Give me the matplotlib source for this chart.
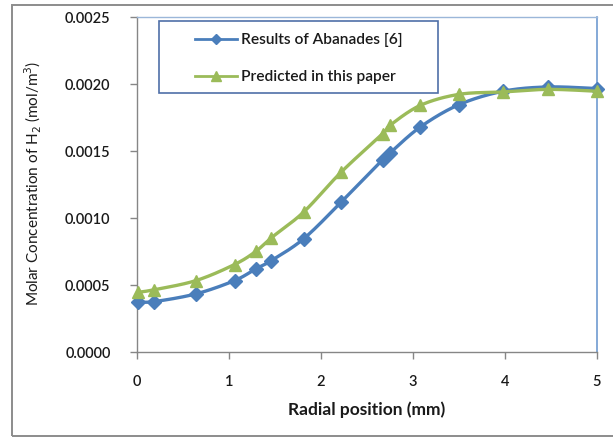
import numpy as np
import matplotlib
matplotlib.use("Agg")
import matplotlib.pyplot as plt
from matplotlib.lines import Line2D
from matplotlib.patches import Rectangle

# Radial positions (mm) and H2 molar concentrations (mol/m3)
radial_mm = [0.01, 0.18, 0.64, 1.06, 1.29, 1.46, 1.81, 2.22, 2.67, 2.75, 3.08, 3.50, 3.98, 4.47, 5.00]
abanades = [0.000375, 0.000375, 0.000433, 0.000532, 0.000619, 0.000681, 0.000843, 0.001117,
            0.001433, 0.001483, 0.001677, 0.001843, 0.001943, 0.001975, 0.001963]
predicted = [0.000445, 0.000463, 0.000532, 0.000652, 0.000749, 0.000851, 0.001042, 0.001341,
             0.001627, 0.001689, 0.001838, 0.001920, 0.001938, 0.001957, 0.001943]

series_names = ["Results of Abanades [6]", "Predicted in this paper"]
x_ticks = [0, 1, 2, 3, 4, 5]
y_ticks = [0.0, 0.0005, 0.0010, 0.0015, 0.0020, 0.0025]

BLUE = "#4a7ebb"
GREEN = "#9bbb59"
GRID_GRAY = "#868686"
FONT = ["Lato", "DejaVu Sans"]


def smooth(xs, ys, n=30):
    """Catmull-Rom style smoothing through every point (like spreadsheet smoothed lines)."""
    xs = np.asarray(xs, float)
    ys = np.asarray(ys, float)
    px = np.concatenate([[xs[0]], xs, [xs[-1]]])
    py = np.concatenate([[ys[0]], ys, [ys[-1]]])
    outx, outy = [], []
    t = np.linspace(0, 1, n, endpoint=False)
    for i in range(1, len(px) - 2):
        p0x, p1x, p2x, p3x = px[i - 1:i + 3]
        p0y, p1y, p2y, p3y = py[i - 1:i + 3]
        c1x, c1y = p1x + (p2x - p0x) / 6, p1y + (p2y - p0y) / 6
        c2x, c2y = p2x - (p3x - p1x) / 6, p2y - (p3y - p1y) / 6
        bx = (1 - t) ** 3 * p1x + 3 * (1 - t) ** 2 * t * c1x + 3 * (1 - t) * t ** 2 * c2x + t ** 3 * p2x
        by = (1 - t) ** 3 * p1y + 3 * (1 - t) ** 2 * t * c1y + 3 * (1 - t) * t ** 2 * c2y + t ** 3 * p2y
        outx.extend(bx)
        outy.extend(by)
    outx.append(xs[-1])
    outy.append(ys[-1])
    return np.array(outx), np.array(outy)


fig = plt.figure(figsize=(6.13, 4.39), dpi=100)
W, H = 613, 439

# Outer chart frame (runs off the right edge)
fig.patches.append(Rectangle((11.5 / W, 2 / H), 620 / W, 431 / H, transform=fig.transFigure,
                             fill=False, edgecolor="#8c8c8c", linewidth=1.4))

ax = fig.add_axes([137 / W, 1 - 353 / H, 460 / W, 335.5 / H])
ax.set_xlim(0, 5)
ax.set_ylim(0, 0.0025)

sx, sy = smooth(radial_mm, abanades)
ax.plot(sx, sy, color=BLUE, lw=2.4, zorder=3, clip_on=False)
ax.plot(radial_mm, abanades, ls="none", marker="D", ms=7.5, color=BLUE, zorder=4, clip_on=False)

gx, gy = smooth(radial_mm, predicted)
ax.plot(gx, gy, color=GREEN, lw=2.4, zorder=5, clip_on=False)
ax.plot(radial_mm, predicted, ls="none", marker="^", ms=9, color=GREEN, zorder=6, clip_on=False)

ax.set_xticks(x_ticks)
ax.set_xticklabels([str(v) for v in x_ticks])
ax.set_yticks(y_ticks)
ax.set_yticklabels([f"{v:.4f}" for v in y_ticks])

for side in ("left", "bottom"):
    ax.spines[side].set_color(GRID_GRAY)
    ax.spines[side].set_linewidth(1.0)
ax.spines["top"].set_color("#9bb7d9")
ax.spines["right"].set_color("#6f9bd1")
ax.spines["top"].set_linewidth(1.0)
ax.spines["right"].set_linewidth(1.2)

ax.tick_params(axis="both", direction="out", length=5, width=1, color=GRID_GRAY,
               labelsize=10.5, labelcolor="#1a1a1a")
ax.tick_params(axis="y", pad=14)
ax.tick_params(axis="x", pad=11)
for lab in ax.get_xticklabels() + ax.get_yticklabels():
    lab.set_family(FONT)
    lab.set_fontweight("semibold")

fig.text(367 / W, 1 - 410 / H, "Radial position (mm)", ha="center", va="center",
         fontsize=12.5, fontweight="bold", family=FONT, color="#1a1a1a")
fig.text(33 / W, 1 - 183 / H, r"Molar Concentration of H$_2$ (mol/m$^3$)", ha="center",
         va="center", rotation=90, fontsize=11, family=FONT, color="#1a1a1a")

# Legend box
fig.patches.append(Rectangle((159 / W, 1 - 94 / H), 279 / W, 72 / H, transform=fig.transFigure,
                             facecolor="white", edgecolor="#4f6fa8", linewidth=1.2, zorder=10))
for row_y, color, marker, ms, name in [(40, BLUE, "D", 5, series_names[0]),
                                        (77, GREEN, "^", 7, series_names[1])]:
    yy = 1 - row_y / H
    fig.add_artist(Line2D([195 / W, 237 / W], [yy, yy], transform=fig.transFigure,
                          color=color, lw=2, zorder=11))
    fig.add_artist(Line2D([216 / W], [yy], transform=fig.transFigure, marker=marker,
                          ms=ms, color=color, ls="none", zorder=12))
    fig.text(241 / W, yy, name, ha="left", va="center", fontsize=11.2, fontweight="semibold",
             family=FONT, color="#1a1a1a", zorder=12)

fig.savefig("out.png", dpi=100)
